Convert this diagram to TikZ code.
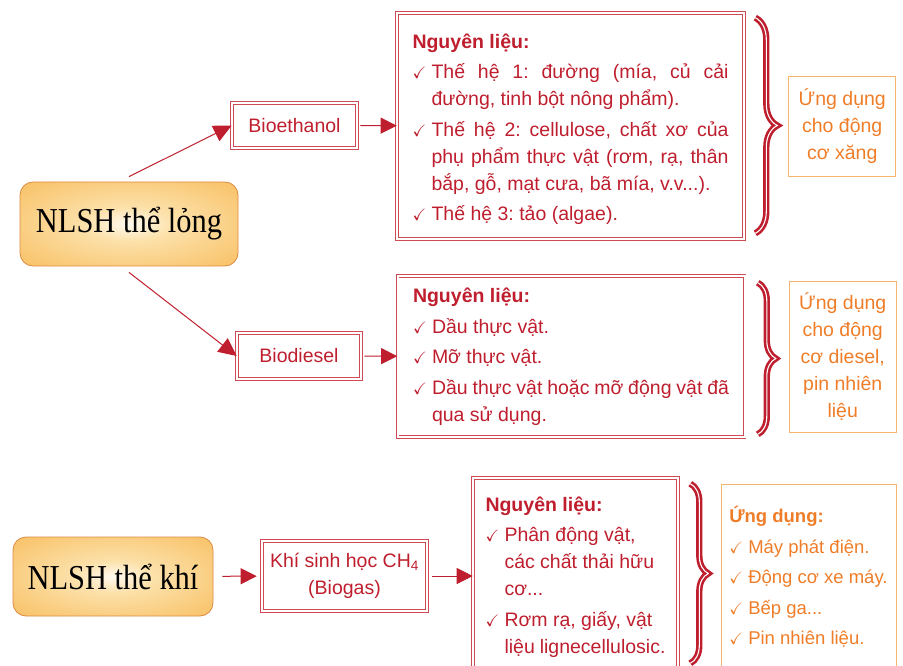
\documentclass[tikz,border=0pt]{standalone}
\usepackage{fontspec}
\usepackage{amssymb}
\setmainfont{Liberation Sans}
\newfontfamily\nlserif{Liberation Serif}[FakeStretch=0.87]
\usetikzlibrary{positioning,arrows.meta,decorations.pathreplacing}

\definecolor{nlred}{RGB}{190,30,45}
\definecolor{nlline}{RGB}{206,74,84}
\definecolor{nlorange}{RGB}{239,125,40}
\definecolor{nlorline}{RGB}{247,182,112}
\definecolor{nlrim}{RGB}{219,139,66}
\definecolor{nlfill}{RGB}{248,192,100}
\definecolor{nlmid}{RGB}{252,225,170}
\definecolor{nlcentre}{RGB}{255,250,240}

\pgfdeclareradialshading{nlglow}{\pgfpoint{0bp}{0bp}}{color(0bp)=(nlcentre); color(10bp)=(nlmid); color(36bp)=(nlfill); color(50bp)=(nlfill)}

\newcommand{\tickitem}[1]{\par\vskip3.5pt\noindent\hangindent=19pt\hangafter=1\makebox[19pt][l]{\fontsize{16.5}{16.5}\selectfont$\checkmark$}#1}
\newcommand{\brk}{\hfil\break}
\newcommand{\nojustbreaks}{\tolerance=9999 \hyphenpenalty=10000 }
\frenchspacing

\begin{document}
\begin{tikzpicture}[x=1pt, y=-1pt, node distance=44pt,
    every node/.style={font=\fontsize{19.5}{27}\selectfont},
    groupbox/.style={draw=nlrim, line width=0.8pt, rounded corners=13pt, shade, shading=nlglow, text=black, inner sep=0pt, font=\nlserif\fontsize{35}{38}\selectfont},
    fuelbox/.style={draw=nlline, line width=0.6pt, double=white, double distance=2pt, text=nlred, inner sep=0pt, align=center},
    listbox/.style={fuelbox, align=justify},
    usebox/.style={draw=nlorline, line width=0.9pt, text=nlorange, inner sep=0pt, align=center},
    link/.style={draw=nlred, line width=1pt, -{Triangle[length=16pt,width=16pt]}},
    curlybrace/.style={decorate, decoration={brace, amplitude=#1}, draw=nlred, line width=2.6pt, double=white, double distance=1.1pt}]
    \useasboundingbox (0,0) rectangle (903,666);
    \clip (0,0) rectangle (903,666);

    \node[groupbox, minimum width=218pt, minimum height=84pt] (liquid) at (129,224) {NLSH thể lỏng};
    \node[groupbox, minimum width=200pt, minimum height=79pt] (gaseous) at (113,576.5) {NLSH thể khí};

    \node[fuelbox, minimum width=125pt, minimum height=45pt] (ethanol) at (294.5,125.5) {Bioethanol};
    \node[fuelbox, minimum width=124pt, minimum height=46pt] (diesel) at (299,356) {Biodiesel};
    \node[fuelbox, minimum width=165pt, minimum height=70pt] (biogas) at (344.5,576) {Khí sinh học CH\textsubscript{4}\\(Biogas)};

    \node[listbox, text width=316pt, inner xsep=15.5pt, minimum height=226pt] (nl1) at (570.5,126) {\nojustbreaks\noindent\rule{0pt}{21pt}\textbf{Nguyên liệu:}
      \tickitem{Thế hệ 1: đường (mía, củ cải\linebreak đường, tinh bột nông phẩm).}
      \tickitem{Thế hệ 2: cellulose, chất xơ của\linebreak phụ phẩm thực vật (rơm, rạ, thân\linebreak bắp, gỗ, mạt cưa, bã mía, v.v...).}
      \tickitem{Thế hệ 3: tảo (algae).}\par};
    \node[listbox, text width=316pt, inner xsep=15.5pt, minimum height=161pt] (nl2) at (571,356.5) {\raggedright\noindent\textbf{Nguyên liệu:}
      \tickitem{Dầu thực vật.}
      \tickitem{Mỡ thực vật.}
      \tickitem{Dầu thực vật hoặc mỡ động vật đã\brk qua sử dụng.}\par};
    \node[listbox, text width=180pt, inner xsep=12.5pt, minimum height=198pt] (nl3) at (575.5,577) {\raggedright\noindent\textbf{Nguyên liệu:}
      \tickitem{Phân động vật,\brk các chất thải hữu\brk cơ...}
      \tickitem{Rơm rạ, giấy, vật\brk liệu lignecellulosic.}\par};

    \node[usebox, minimum width=107pt, minimum height=100pt, right=of nl1] (use1) {Ứng dụng\\cho động\\cơ xăng};
    \node[usebox, minimum width=107pt, minimum height=151pt, right=of nl2] (use2) {Ứng dụng\\cho động\\cơ diesel,\\pin nhiên\\liệu};
    \node[usebox, text width=160pt, align=justify, inner xsep=7.5pt, minimum height=186pt, right=43pt of nl3, font=\fontsize{18.5}{27}\selectfont] (use3) {\raggedright\noindent\textbf{Ứng dụng:}
      \tickitem{Máy phát điện.}
      \tickitem{Động cơ xe máy.}
      \tickitem{Bếp ga...}
      \tickitem{Pin nhiên liệu.}\par};

    \draw[link, -{Triangle[length=18pt,width=17pt]}] ([yshift=5pt]liquid.north) -- (ethanol.west);
    \draw[link, -{Triangle[length=18pt,width=17pt]}] ([yshift=-6pt]liquid.south) -- (diesel.west);
    \draw[link, shorten <=3pt] (ethanol) -- (nl1);
    \draw[link, shorten <=3pt] (diesel) -- (nl2);
    \draw[link, shorten <=9pt, shorten >=5pt] (gaseous) -- (biogas);
    \draw[link, shorten <=5pt] (biogas) -- (biogas -| nl3.west);

    \draw[curlybrace=22pt] ([xshift=11pt,yshift=-5pt]nl1.north east) -- ([xshift=11pt,yshift=6pt]nl1.south east);
    \draw[curlybrace=18pt] ([xshift=13pt,yshift=-7pt]nl2.north east) -- ([xshift=13pt,yshift=3pt]nl2.south east);
    \draw[curlybrace=18pt] ([xshift=12pt,yshift=-6pt]nl3.north east) -- ([xshift=12pt,yshift=13pt]nl3.south east);
\end{tikzpicture}
\end{document}
